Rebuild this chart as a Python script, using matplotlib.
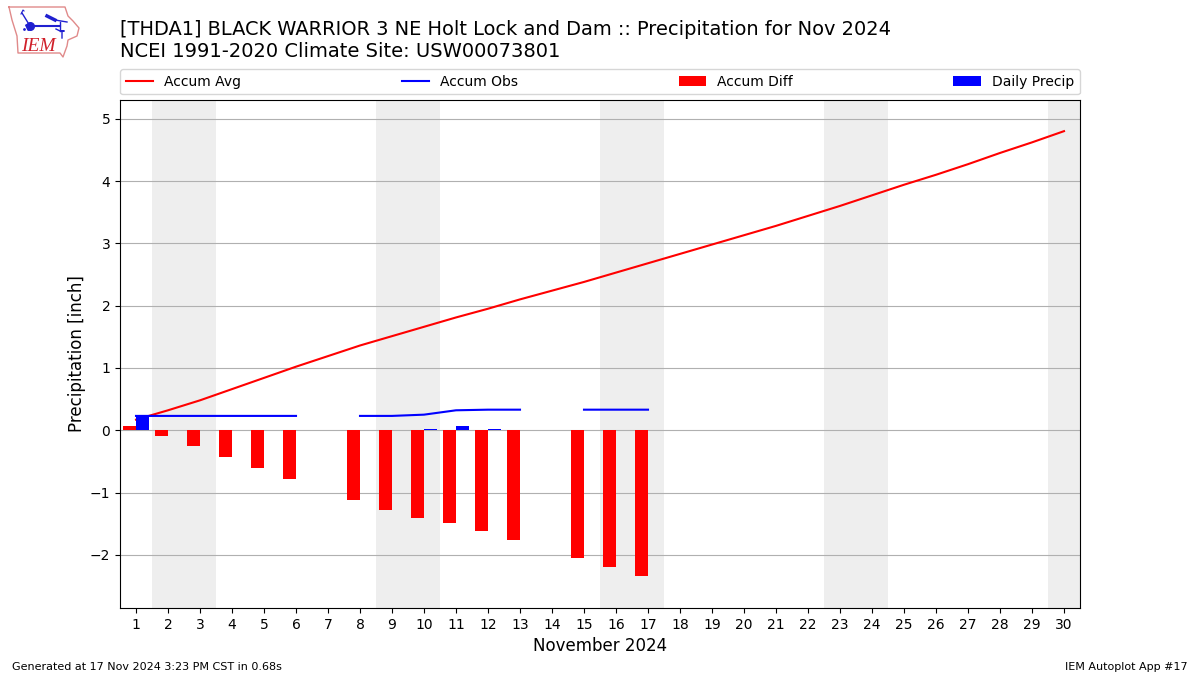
import numpy as np
import matplotlib
matplotlib.use("Agg")
import matplotlib.pyplot as plt

days = list(range(1, 31))
accum_avg = [0.17, 0.32, 0.48, 0.66, 0.84, 1.02, 1.19, 1.36, 1.51, 1.66,
             1.81, 1.95, 2.10, 2.24, 2.38, 2.53, 2.68, 2.83, 2.98, 3.13,
             3.28, 3.44, 3.60, 3.77, 3.94, 4.10, 4.27, 4.45, 4.62, 4.80]
nan = np.nan
accum_obs = [0.23, 0.23, 0.23, 0.23, 0.23, 0.23, nan, 0.23, 0.23, 0.25,
             0.32, 0.33, 0.33, nan, 0.33, 0.33, 0.33, nan, nan, nan,
             nan, nan, nan, nan, nan, nan, nan, nan, nan, nan]
accum_diff = [0.06, -0.09, -0.25, -0.43, -0.61, -0.79, nan, -1.12, -1.28, -1.41,
              -1.49, -1.62, -1.76, nan, -2.05, -2.19, -2.34, nan, nan, nan,
              nan, nan, nan, nan, nan, nan, nan, nan, nan, nan]
daily_precip = [0.23, 0, 0, 0, 0, 0, nan, 0, 0, 0.02,
                0.07, 0.02, 0, nan, 0, 0, 0, nan, nan, nan,
                nan, nan, nan, nan, nan, nan, nan, nan, nan, nan]
weekend_spans = [(1.5, 3.5), (8.5, 10.5), (15.5, 17.5), (22.5, 24.5), (29.5, 30.5)]

fig = plt.figure(figsize=(12, 6.75), dpi=100)
ax = fig.add_axes([120 / 1200, 1 - 608 / 675, 960 / 1200, 508 / 675])

for start, end in weekend_spans:
    ax.axvspan(start, end, color="#eeeeee", lw=0, zorder=0)

x = np.array(days)
ax.plot(x, accum_avg, color="r", label="Accum Avg", zorder=3)
ax.plot(x, accum_obs, color="b", label="Accum Obs", zorder=3)
ax.bar(x - 0.4, accum_diff, width=0.4, align="edge", color="r", label="Accum Diff", zorder=2)
ax.bar(x, daily_precip, width=0.4, align="edge", color="b", label="Daily Precip", zorder=4)

ax.set_xlim(0.5, 30.5)
ax.set_ylim(-2.853, 5.30)
ax.set_xticks(days)
ax.set_yticks(range(-2, 6))
ax.grid(axis="y", color="#b0b0b0", zorder=1)
ax.set_axisbelow(True)
ax.set_xlabel("November 2024", fontsize=12, labelpad=4)
ax.set_ylabel("Precipitation [inch]", fontsize=12, labelpad=3)
ax.legend(loc="lower left", bbox_to_anchor=(0, 1.011, 1, 0.05), mode="expand", ncol=4,
          fontsize=10, borderaxespad=0)

fig.text(120 / 1200, 1 - 35 / 675, "[THDA1] BLACK WARRIOR 3 NE Holt Lock and Dam :: Precipitation for Nov 2024",
         fontsize=13.97, va="baseline")
fig.text(120 / 1200, 1 - 57 / 675, "NCEI 1991-2020 Climate Site: USW00073801", fontsize=14, va="baseline")
fig.text(12 / 1200, 1 - 670 / 675, "Generated at 17 Nov 2024 3:23 PM CST in 0.68s", fontsize=8, va="baseline")
fig.text(1188 / 1200, 1 - 670 / 675, "IEM Autoplot App #17", fontsize=8, ha="right", va="baseline")

# logo, pixel coordinates of the reference
logo = fig.add_axes([0, 1 - 60 / 675, 85 / 1200, 60 / 675])
logo.set_xlim(0, 85)
logo.set_ylim(60, 0)
logo.axis("off")
logo.plot([9, 65, 68, 73, 79, 77, 68, 67, 63, 60, 18, 17, 12, 9],
          [7, 7, 16, 21, 28, 36, 40, 46, 57, 53, 53, 36, 20, 7], color="#e08a8a", lw=1)
logo.plot([30, 60], [26, 26], color="#2020d0", lw=1.5)
logo.plot([30], [26], "o", color="#2020d0", ms=5.5)
logo.plot([22, 30], [13, 26], color="#2020d0", lw=1)
logo.plot([21, 23, 24], [14, 10, 11], color="#2020d0", lw=0.8)
logo.plot([24, 26, 28], [29, 25, 29], ".", color="#2020d0", ms=2)
logo.plot([47, 55], [16, 20], color="#2020d0", lw=2.5)
logo.plot([55, 67], [20, 22], color="#2020d0", lw=1)
logo.plot([60, 60], [22, 31], color="#2020d0", lw=1)
logo.plot([56, 60, 64, 62, 62], [29, 31, 31, 31, 38], color="#2020d0", lw=1)
logo.text(21, 51, "IEM", color="#d0202a", fontsize=14, family="Liberation Serif", style="italic")

fig.savefig("out.png", dpi=100)
